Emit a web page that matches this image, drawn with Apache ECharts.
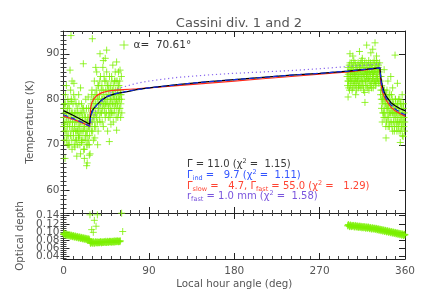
<!DOCTYPE html>
<html><head><meta charset="utf-8">
<script src="https://cdn.jsdelivr.net/npm/echarts@6/dist/echarts.min.js"></script>
<style>html,body{margin:0;padding:0;background:#fff}#c{width:427px;height:305px}</style>
</head><body><div id="c"></div>
<script>
const TITLE = 'Cassini div. 1 and 2';
const X_NAME = 'Local hour angle (deg)';
const Y1_NAME = 'Temperature (K)';
const Y2_NAME = 'Optical depth';
const LEGEND_LABEL = 'α=  70.61°';
const hourTicks = [0, 90, 180, 270, 360];
const tempTicks = [60, 70, 80, 90];
const tauTicks = [0.04, 0.06, 0.08, 0.10, 0.12, 0.14];
const tauLabelsA = [0.04, 0.08, 0.12];
const tauLabelsB = [0.06, 0.10, 0.14];

// observed temperatures [hour angle, K]
const tempObsA = [[0.5,76],[1,79],[1.5,73],[2,81],[2.5,75],[3,71],[3.5,77],[4,74],[4.5,80],[5,72],[5.5,76],[6,78],[6.5,70],[7,75],[7.5,82],[8,73],[8.5,77],[9,69],[9.5,75],[10,79],[10.5,72],[11,76],[11.5,74],[12,80],[12.5,71],[13,77],[13.5,73],[14,75],[14.5,78],[15,70],[15.5,74],[16,81],[16.5,76],[17,72],[17.5,77],[18,68],[18.5,75],[19,79],[19.5,73],[20,76],[20.5,71],[21,78],[21.5,74],[22,69],[22.5,77],[23,72],[23.5,80],[24,75],[24.5,70],[25,73],[25.5,76],[26,71],[26.5,78],[27,74],[27.5,72],[28,68],
  [1.6,67],[6.9,86.4],[7.9,94],[20.9,87.8],[24.4,65.4],[25,66],[27.2,67.7],[3,83],[11,83.5],[18,82.5],[14,67.5],[22,67],[9,84],[4,70],[16,71.5],[26,80.5],[12,69.5],[19,70.5],[1,74.5],[8,79.5],
  [0.25,78],[0.75,74],[1.25,71],[1.75,77],[2.25,79],[2.75,73],[3.25,76],[3.75,72],[4.25,78],[4.75,75],[5.25,70],[5.75,79],[6.25,74],[6.75,77],[7.25,72],[7.75,76],[8.25,80],[8.75,71],[9.25,74],[9.75,77],[10.25,73],[10.75,81],[11.25,70],[11.75,77],[12.25,75],[12.75,73],[13.25,79],[13.75,71],[14.25,76],[14.75,73],[15.25,77],[15.75,72],[16.25,79],[16.75,74],[17.25,70],[17.75,75],[18.25,73],[18.75,77],[19.25,71],[19.75,75],[20.25,78],[20.75,73],[21.25,69],[21.75,76],[22.25,74],[22.75,71],[23.25,76],[23.75,73],[24.25,78],[24.75,72],[25.25,75],[25.75,70],[26.25,74],[26.75,76],[27.25,70],[27.75,74]];
const tempObsB = [[28.5,76],[29,79],[29.5,73],[30,82],[30.5,75],[31,78],[31.5,71],[32,80],[32.5,84],[33,76],[33.5,79],[34,74],[34.5,82],[35,86],[35.5,77],[36,80],[36.5,73],[37,83],[37.5,78],[38,81],[38.5,75],[39,85],[39.5,79],[40,77],[40.5,83],[41,80],[41.5,87],[42,74],[42.5,81],[43,78],[43.5,84],[44,76],[44.5,82],[45,79],[45.5,86],[46,80],[46.5,73],[47,83],[47.5,78],[48,81],[48.5,85],[49,76],[49.5,80],[50,82],[50.5,77],[51,84],[51.5,79],[52,81],[52.5,75],[53,83],[53.5,80],[54,78],[54.5,86],[55,82],[55.5,76],[56,80],[56.5,84],[57,79],[57.5,81],[58,77],[58.5,83],[59,80],[59.5,78],[60,82],[60.5,79],[61,85],[61.5,77],
  [30.4,93.3],[38.5,90],[45.5,90.8],[56,88.2],[59.6,86.4],[48.3,70.7],[56,73.2],[33,71.5],[42,88.5],[52,87.5],[36,70],[44,89],[50,74.5],[34,87],[58,86],
  [28.75,78],[29.25,75],[29.75,81],[30.25,77],[30.75,73],[31.25,80],[31.75,76],[32.25,78],[32.75,74],[33.25,81],[33.75,77],[34.25,79],[34.75,76],[35.25,81],[35.75,75],[36.25,83],[36.75,78],[37.25,80],[37.75,76],[38.25,84],[38.75,79],[39.25,77],[39.75,82],[40.25,80],[40.75,75],[41.25,78],[41.75,82],[42.25,79],[42.75,85],[43.25,80],[43.75,77],[44.25,79],[44.75,84],[45.25,77],[45.75,81],[46.25,83],[46.75,79],[47.25,76],[47.75,82],[48.25,79],[48.75,77],[49.25,83],[49.75,78],[50.25,80],[50.75,85],[51.25,77],[51.75,82],[52.25,79],[52.75,81],[53.25,77],[53.75,84],[54.25,81],[54.75,79],[55.25,84],[55.75,80],[56.25,78],[56.75,82],[57.25,76],[57.75,83],[58.25,80],[58.75,78],[59.25,84],[59.75,81],[60.25,76],[60.75,81],[61.25,80]];
const tempObsC = [[299,85],[299.5,83],[300,87],[300.5,84],[301,86],[301.5,82],[302,88],[302.5,85],[303,83.5],[303.5,86.5],[304,84],[304.5,87],[305,82.5],[305.5,85.5],[306,88.5],[306.5,84],[307,86],[307.5,83],[308,87.5],[308.5,85],[309,82],[309.5,86],[310,84.5],[310.5,88],[311,83],[311.5,85.5],[312,87],[312.5,84],[313,86.5],[313.5,82.5],[314,85],[314.5,88.5],[315,84],[315.5,86],[316,83],[316.5,87],[317,85],[317.5,81.5],[318,86.5],[318.5,84],[319,88],[319.5,85],[320,83],[320.5,86],[321,87.5],[321.5,84.5],[322,82],[322.5,86],[323,85],[323.5,88],[324,83.5],[324.5,86.5],[325,84],[325.5,87],[326,85.5],[326.5,82.5],[327,86],[327.5,88.5],[328,84],[328.5,86.5],[329,83],[329.5,87],[330,85],[330.5,88],[331,84.5],[331.5,86],[332,87.5],[332.5,83.5],[333,86],[333.5,85],
  [302,90],[319.6,91.9],[328.4,92.4],[317.8,79.3],[312,90.5],[324,90.2],[308,81],[300,80.5],[326,91],[305,89.5],[315,89],[330,89.5],
  [299.25,86],[299.75,84],[300.25,85.5],[300.75,82.5],[301.25,87.5],[301.75,84.5],[302.25,83],[302.75,86.5],[303.25,85],[303.75,88],[304.25,82],[304.75,85.5],[305.25,84],[305.75,87],[306.25,83],[306.75,85.5],[307.25,88],[307.75,84.5],[308.25,86],[308.75,83.5],[309.25,87],[309.75,84],[310.25,86.5],[310.75,82.5],[311.25,85],[311.75,87.5],[312.25,83],[312.75,85.5],[313.25,88],[313.75,84],[314.25,86.5],[314.75,83],[315.25,87.5],[315.75,85],[316.25,82],[316.75,85.5],[317.25,88],[317.75,84],[318.25,86],[318.75,83],[319.25,85.5],[319.75,87],[320.25,84.5],[320.75,82.5],[321.25,86],[321.75,88.5],[322.25,84],[322.75,87],[323.25,83],[323.75,85.5],[324.25,87.5],[324.75,82.5],[325.25,86],[325.75,84.5],[326.25,88],[326.75,85],[327.25,83.5],[327.75,86],[328.25,87.5],[328.75,84],[329.25,85.5],[329.75,88.5],[330.25,83.5],[330.75,86.5],[331.25,85],[331.75,87],[332.25,84],[332.75,86.5],[333.25,88]];
const tempObsD = [[334,84],[334.5,82],[335,80],[335.5,83],[336,79],[336.5,81],[337,77],[337.5,82],[338,78],[338.5,80],[339,76],[339.5,81],[340,79],[340.5,75],[341,82],[341.5,78],[342,80],[342.5,76],[343,79],[343.5,74],[344,81],[344.5,77],[345,79],[345.5,75],[346,78],[346.5,80],[347,73],[347.5,77],[348,79],[348.5,76],[349,74],[349.5,78],[350,80],[350.5,75],[351,77],[351.5,73],[352,79],[352.5,76],[353,74],[353.5,78],[354,75],[354.5,80],[355,77],[355.5,73],[356,76],[356.5,78],[357,74],[357.5,77],[358,75],[358.5,79],[359,76],[359.5,73],
  [349.5,89.7],[358,71.8],[345,85],[352,83.5],[340,71.5],[355,70.5],[338,86.5],[342,84],[347,82.5],[357,81],[336,75],
  [334.25,81],[334.75,85],[335.25,78],[335.75,82],[336.25,80],[336.75,77],[337.25,80],[337.75,76],[338.25,82],[338.75,77],[339.25,79],[339.75,74],[340.25,81],[340.75,78],[341.25,76],[341.75,80],[342.25,74],[342.75,78],[343.25,81],[343.75,77],[344.25,75],[344.75,79],[345.25,77],[345.75,81],[346.25,74],[346.75,77],[347.25,79],[347.75,75],[348.25,78],[348.75,73],[349.25,77],[349.75,80],[350.25,76],[350.75,78],[351.25,74],[351.75,79],[352.25,75],[352.75,77],[353.25,80],[353.75,73],[354.25,77],[354.75,75],[355.25,79],[355.75,76],[356.25,74],[356.75,79],[357.25,72],[357.75,76],[358.25,78],[358.75,74],[359.25,77],[359.75,75]];

// observed optical depth [hour angle, tau]
const tauObsA = [[0,0.094],[1,0.096],[2,0.092],[3,0.094],[4,0.091],[5,0.093],[6,0.090],[7,0.092],[8,0.089],[9,0.091],[10,0.088],[11,0.090],[12,0.087],[13,0.089],[14,0.086],[15,0.088],[16,0.085],[17,0.087],[18,0.084],[19,0.086],[20,0.083],[21,0.085],[22,0.082],[23,0.084],[24,0.081],[25,0.083],[26,0.080],[27,0.082],
  [28,0.075],[29,0.073],[30,0.076],[31,0.072],[32,0.075],[33,0.073],[34,0.076],[35,0.074],[36,0.073],[37,0.075],[38,0.074],[39,0.076],[40,0.073],[41,0.075],[42,0.074],[43,0.076],[44,0.074],[45,0.075],[46,0.076],[47,0.074],[48,0.076],[49,0.075],[50,0.077],[51,0.075],[52,0.076],[53,0.077],[54,0.075],[55,0.077],[56,0.076],[57,0.078],[58,0.076],[59,0.077],[60,0.078],
  [27.9,0.142],[32.5,0.1285],[34.3,0.114],[29.7,0.1056],[31.4,0.099],[35.7,0.142],[61.3,0.146],[62.4,0.101],
  [0.5,0.097],[1.5,0.093],[2.5,0.095],[3.5,0.092],[4.5,0.094],[5.5,0.091],[6.5,0.093],[7.5,0.090],[8.5,0.092],[9.5,0.089],[10.5,0.091],[11.5,0.088],[12.5,0.090],[13.5,0.087],[14.5,0.089],[15.5,0.086],[16.5,0.088],[17.5,0.085],[18.5,0.087],[19.5,0.084],[20.5,0.086],[21.5,0.083],[22.5,0.085],[23.5,0.082],[24.5,0.084],[25.5,0.081],[26.5,0.083],[27.5,0.080],
  [28.5,0.072],[29.5,0.075],[30.5,0.073],[31.5,0.076],[32.5,0.072],[33.5,0.075],[34.5,0.073],[35.5,0.076],[36.5,0.074],[37.5,0.073],[38.5,0.076],[39.5,0.074],[40.5,0.076],[41.5,0.074],[42.5,0.076],[43.5,0.075],[44.5,0.077],[45.5,0.074],[46.5,0.077],[47.5,0.075],[48.5,0.077],[49.5,0.076],[50.5,0.075],[51.5,0.077],[52.5,0.075],[53.5,0.078],[54.5,0.076],[55.5,0.078],[56.5,0.077],[57.5,0.076],[58.5,0.078],[59.5,0.076]];
const tauObsB = [[300,0.117],[301,0.115],[302,0.116],[303,0.114],[304,0.116],[305,0.114],[306,0.115],[307,0.113],[308,0.115],[309,0.113],[310,0.114],[311,0.112],[312,0.114],[313,0.112],[314,0.113],[315,0.111],[316,0.113],[317,0.111],[318,0.112],[319,0.110],[320,0.112],[321,0.110],[322,0.111],[323,0.109],[324,0.110],[325,0.108],[326,0.110],[327,0.108],[328,0.109],[329,0.107],[330,0.108],[331,0.106],[332,0.107],[333,0.105],[334,0.106],[335,0.104],[336,0.105],[337,0.103],[338,0.104],[339,0.102],[340,0.103],[341,0.101],[342,0.102],[343,0.100],[344,0.101],[345,0.099],[346,0.100],[347,0.098],[348,0.099],[349,0.097],[350,0.098],[351,0.096],[352,0.097],[353,0.095],[354,0.096],[355,0.094],[356,0.095],[357,0.093],[358,0.094],[359,0.092],[360,0.093],
  [299.5,0.115],[300.5,0.118],[301.5,0.113],[302.5,0.117],[303.5,0.113],[304.5,0.115],[305.5,0.116],[306.5,0.112],[307.5,0.116],[308.5,0.112],[309.5,0.115],[310.5,0.111],[311.5,0.114],[312.5,0.111],[313.5,0.114],[314.5,0.110],[315.5,0.113],[316.5,0.110],[317.5,0.113],[318.5,0.109],[319.5,0.112],[320.5,0.109],[321.5,0.112],[322.5,0.108],[323.5,0.111],[324.5,0.107],[325.5,0.110],[326.5,0.107],[327.5,0.109],[328.5,0.106],[329.5,0.109],[330.5,0.105],[331.5,0.108],[332.5,0.104],[333.5,0.107],[334.5,0.103],[335.5,0.106],[336.5,0.102],[337.5,0.105],[338.5,0.101],[339.5,0.104],[340.5,0.100],[341.5,0.103],[342.5,0.099],[343.5,0.102],[344.5,0.098],[345.5,0.101],[346.5,0.097],[347.5,0.100],[348.5,0.096],[349.5,0.099],[350.5,0.095],[351.5,0.098],[352.5,0.094],[353.5,0.097],[354.5,0.093],[355.5,0.096],[356.5,0.092],[357.5,0.095],[358.5,0.091],[359.5,0.094]];

// model curves
const modelX     = [0,10,20,27.5,28.5,30,32,35,40,45,50,56,63,70,77,90,120,150,180,210,240,270,300,320,333.5,334.5,336,338,340,345,350,355,360];
const modelGamma = [77.5,76.5,75.4,74.5,76.2,77.4,78.0,78.7,79.8,80.5,80.9,81.3,81.5,81.8,82.1,82.5,83.2,83.8,84.3,84.8,85.3,85.7,86.2,86.6,86.9,84.8,83.0,81.6,80.7,79.3,78.5,77.9,77.5];
const modelInd   = [76.6,75.8,74.9,74.1,76.0,77.1,77.9,78.7,79.8,80.5,80.9,81.3,81.6,81.9,82.1,82.5,83.2,83.8,84.3,84.8,85.3,85.7,86.2,86.6,86.9,84.2,82.4,81.1,80.2,78.8,77.8,77.1,76.6];
const modelSlowFast = [76.3,75.6,74.8,74.1,78.0,79.3,80.1,80.8,81.4,81.7,81.9,82.0,82.1,82.2,82.3,82.5,83.0,83.5,84.0,84.5,85.0,85.5,86.0,86.5,86.9,83.5,81.8,80.6,79.8,78.3,77.4,76.8,76.3];
const modelRfast = [76.2,75.5,74.8,74.0,74.3,75.0,76.4,77.8,79.2,80.5,81.4,82.2,82.7,83.1,83.5,84.0,84.8,85.3,85.7,86.0,86.3,86.7,87.2,87.5,87.8,85.5,83.5,82.0,80.9,79.1,77.9,77.0,76.2];

const annotations = [
  {color:'#3a3a3a', parts:[['n','Γ = 11.0 (χ'],['sup','2'],['n',' =  1.15)']]},
  {color:'#3355ff', parts:[['n','Γ'],['sub','ind'],['n',' =   9.7 (χ'],['sup','2'],['n',' =  1.11)']]},
  {color:'#ff4433', parts:[['n','Γ'],['sub','slow'],['n',' =   4.7, Γ'],['sub','fast'],['n',' = 55.0 (χ'],['sup','2'],['n',' =   1.29)']]},
  {color:'#7a55dd', parts:[['n','r'],['sub','fast'],['n',' = 1.0 mm (χ'],['sup','2'],['n',' =  1.58)']]}
];

const GREEN = '#7CF000';
const PLUS = 'path://M0,5L10,5M5,0L5,10';
const FONT = 'DejaVu Sans';
const AX = '#222';
const TXT = '#555';
const zip = (xs, ys) => xs.map((x, i) => [x, ys[i]]);

const tauMinor = [];
for (let v = 35; v <= 145; v += 5) tauMinor.push(v / 1000);

const G = [{left:63.5, top:31, width:341.5, height:182}, {left:63.5, top:213, width:341.5, height:46}];
const LABEL_STYLE = {color:TXT, fontSize:10.5, fontFamily:FONT, margin:4};

function xAx(grid, pos, labels, name) {
  return {type:'value', gridIndex:grid, position:pos, min:0, max:360, interval:90,
    axisLine:{show:true, onZero:false, lineStyle:{color:AX, width:1}},
    axisTick:{show:true, inside:true, length:6, lineStyle:{color:AX}},
    minorTick:{show:true, splitNumber:9, length:3, lineStyle:{color:'#444'}},
    splitLine:{show:false},
    axisLabel:{show:labels, color:TXT, fontSize:10.5, fontFamily:FONT, margin:7},
    name: name || '', nameLocation:'middle', nameGap:20,
    nameTextStyle:{color:TXT, fontSize:10.3, fontFamily:FONT}};
}
function yMajor(grid, pos, min, max, ticks, labelVals, name, nameGap, fmt) {
  return {type:'value', gridIndex:grid, position:pos, min:min, max:max,
    axisLine:{show:true, onZero:false, lineStyle:{color:AX, width:1}},
    axisTick:{show:true, inside:true, length:6, customValues:ticks, lineStyle:{color:AX}},
    axisLabel:Object.assign({show:!!labelVals, customValues:labelVals || ticks, hideOverlap:false, formatter:fmt}, LABEL_STYLE),
    splitLine:{show:false},
    name: name || '', nameLocation:'middle', nameGap:nameGap || 0, nameRotate:90,
    nameTextStyle:{color:TXT, fontSize:10.3, fontFamily:FONT}};
}
function yMinor(grid, pos, min, max, opts) {
  return Object.assign({type:'value', gridIndex:grid, position:pos, min:min, max:max,
    axisLine:{show:false},
    axisLabel:{show:false}, splitLine:{show:false}}, opts);
}
const fmtTau = v => v.toFixed(2);

const option = {
  animation:false,
  backgroundColor:'#fff',
  title:{text:TITLE, left:234, top:12, textAlign:'center',
    textStyle:{color:TXT, fontSize:13, fontWeight:'normal', fontFamily:FONT}},
  legend:{left:112, top:33, itemWidth:9, itemHeight:9, itemGap:4,
    data:[{name:LEGEND_LABEL, icon:PLUS, itemStyle:{color:'none', borderColor:GREEN, borderWidth:1}}],
    textStyle:{color:'#333', fontSize:10.5, fontFamily:FONT, padding:[0,0,0,0]}},
  grid:G.map(g => Object.assign({outerBoundsMode:'none'}, g)),
  xAxis:[xAx(0,'bottom',false), xAx(0,'top',false), xAx(1,'bottom',true,X_NAME), xAx(1,'top',false)],
  yAxis:[
    yMajor(0,'left',55,95,tempTicks,tempTicks,Y1_NAME,22),
    yMinor(0,'left',55,95,{interval:1, axisTick:{show:true, inside:true, length:3, lineStyle:{color:'#444'}}}),
    yMajor(0,'right',55,95,tempTicks,null),
    yMinor(0,'right',55,95,{interval:1, axisTick:{show:true, inside:true, length:3, lineStyle:{color:'#444'}}}),
    yMajor(1,'left',0.0335,0.1465,tauTicks,tauLabelsA,Y2_NAME,29,fmtTau),
    yMinor(1,'left',0.0335,0.1465,{axisTick:{show:true, inside:true, length:3, customValues:tauMinor, lineStyle:{color:'#444'}},
      axisLabel:Object.assign({show:true, customValues:tauLabelsB, hideOverlap:false, formatter:fmtTau}, LABEL_STYLE)}),
    yMajor(1,'right',0.0335,0.1465,tauTicks,null),
    yMinor(1,'right',0.0335,0.1465,{axisTick:{show:true, inside:true, length:3, customValues:tauMinor, lineStyle:{color:'#444'}}})
  ],
  series:[
    {name:LEGEND_LABEL, type:'scatter', xAxisIndex:0, yAxisIndex:0, symbol:PLUS, symbolSize:7,
      itemStyle:{color:'none', borderColor:GREEN, borderWidth:1}, emphasis:{disabled:true},
      data:[].concat(tempObsA, tempObsB, tempObsC, tempObsD)},
    {name:'rfast', type:'line', xAxisIndex:0, yAxisIndex:0, showSymbol:false, symbol:'none',
      lineStyle:{color:'#8866ee', width:1.2, type:[1.2,2.8]}, data:zip(modelX, modelRfast)},
    {name:'slowfast', type:'line', xAxisIndex:0, yAxisIndex:0, showSymbol:false, symbol:'none',
      lineStyle:{color:'#ff2a1a', width:1.2}, data:zip(modelX, modelSlowFast)},
    {name:'gamma', type:'line', xAxisIndex:0, yAxisIndex:0, showSymbol:false, symbol:'none',
      lineStyle:{color:'#000', width:1.2}, data:zip(modelX, modelGamma)},
    {name:'ind', type:'line', xAxisIndex:0, yAxisIndex:0, showSymbol:false, symbol:'none',
      lineStyle:{color:'#1030e0', width:1.2, type:[5,3]}, data:zip(modelX, modelInd)},
    {name:'tau', type:'scatter', xAxisIndex:2, yAxisIndex:4, symbol:PLUS, symbolSize:7,
      itemStyle:{color:'none', borderColor:GREEN, borderWidth:1}, emphasis:{disabled:true},
      data:[].concat(tauObsA, tauObsB)}
  ],
  graphic: annotations.map((a, i) => ({
    type:'text', left:187, top:[158, 169, 179.5, 190][i], z:100,
    style:{
      text: a.parts.map(p => '{' + p[0] + '|' + p[1] + '}').join(''),
      rich:{
        n:{fontSize:10, lineHeight:13, fill:a.color, fontFamily:FONT},
        sub:{fontSize:6.5, lineHeight:7, verticalAlign:'bottom', fill:a.color, fontFamily:FONT},
        sup:{fontSize:6.5, lineHeight:7, verticalAlign:'top', fill:a.color, fontFamily:FONT}
      }
    }
  }))
};

const chart = echarts.init(document.getElementById('c'), null, {renderer:'canvas'});
chart.setOption(option);
</script>
</body></html>
